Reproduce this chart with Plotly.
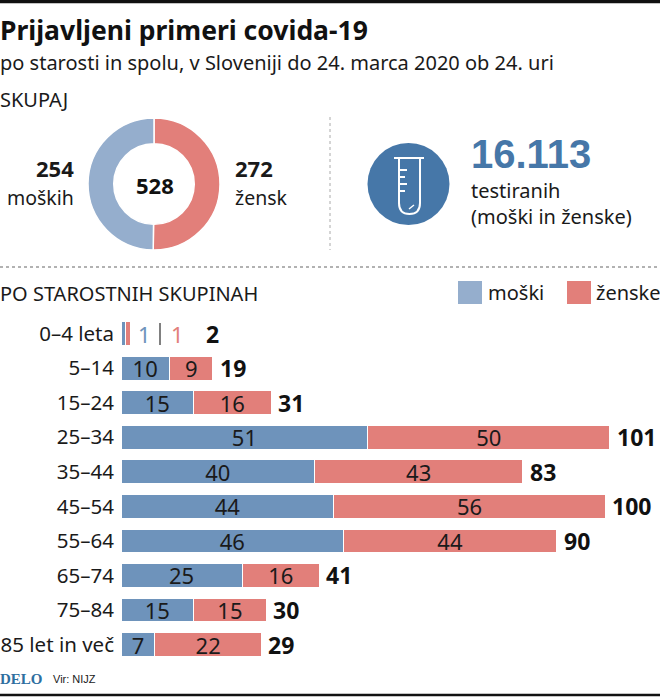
import plotly.graph_objects as go

W = 660
H = 697

# data
groups = ["0–4 leta", "5–14", "15–24", "25–34", "35–44", "45–54", "55–64", "65–74", "75–84", "85 let in več"]
men = [1, 10, 15, 51, 40, 44, 46, 25, 15, 7]
women = [1, 9, 16, 50, 43, 56, 44, 16, 15, 22]
totals = [2, 19, 31, 101, 83, 100, 90, 41, 30, 29]
total_men = 254
total_women = 272
total_all = 528
# the ring in the picture is drawn almost half and half, not 254:272
ring_women = 265
ring_men = 263
tested = "16.113"

BLUE = "#6e93bb"
LIGHT_BLUE = "#95aecd"
RED = "#e27f7a"
DARK_BLUE = "#4677a8"
FONT = "Noto Sans"


def px(x):
    return x / W


def py(y):
    return 1 - y / H


def text(x, y, s, size=20, color="#1a1a1a", anchor="left", bold=False, family=FONT):
    if bold:
        s = "<b>" + s + "</b>"
    return dict(
        x=px(x), y=py(y), xref="paper", yref="paper", text=s, showarrow=False,
        xanchor=anchor, yanchor="middle", font=dict(size=size, color=color, family=family),
        borderpad=0, borderwidth=0,
    )


def line(x0, y0, x1, y1, color="white", width=2, dash=None):
    return dict(
        type="line", xref="paper", yref="paper", x0=px(x0), y0=py(y0), x1=px(x1), y1=py(y1),
        line=dict(color=color, width=width, dash=dash),
    )


fig = go.Figure()

fig.add_trace(go.Pie(
    values=[ring_women, ring_men],
    labels=["ženske", "moški"],
    marker=dict(colors=[RED, LIGHT_BLUE], line=dict(color="white", width=1.5)),
    hole=0.61, sort=False, direction="clockwise", rotation=0,
    textinfo="none", showlegend=False,
    domain=dict(x=[px(88), px(220)], y=[py(250), py(118)]),
))

fig.add_trace(go.Bar(
    name="moški", y=groups, x=men, orientation="h",
    marker=dict(color=BLUE, line=dict(color="white", width=1)),
    text=[""] + [str(v) for v in men[1:]],
    textposition="inside", insidetextanchor="middle", textangle=0,
    constraintext="none", textfont=dict(size=22, color="#1a1a1a", family=FONT),
    showlegend=False,
))
fig.add_trace(go.Bar(
    name="ženske", y=groups, x=women, orientation="h",
    marker=dict(color=RED, line=dict(color="white", width=1)),
    text=[""] + [str(v) for v in women[1:]],
    textposition="inside", insidetextanchor="middle", textangle=0,
    constraintext="none", textfont=dict(size=22, color="#1a1a1a", family=FONT),
    showlegend=False,
))

annotations = [
    text(0, 30, "Prijavljeni primeri covida-19", size=26.5, color="#111111", bold=True),
    text(0, 62, "po starosti in spolu, v Sloveniji do 24. marca 2020 ob 24. uri", size=20),
    text(0, 100, "SKUPAJ", size=20),
    text(74, 168, str(total_men), size=22, anchor="right", bold=True),
    text(74, 197, "moških", size=19.5, anchor="right"),
    text(235, 168, str(total_women), size=22, bold=True),
    text(235, 197, "žensk", size=19.5),
    text(155, 185, str(total_all), size=22, anchor="center", bold=True, color="#111111"),
    text(471, 154, tested, size=40, color=DARK_BLUE, bold=True, family="Liberation Sans"),
    text(471, 190, "testiranih", size=20),
    text(471, 217, "(moški in ženske)", size=20),
    text(0, 293, "PO STAROSTNIH SKUPINAH", size=20),
    text(488, 292, "moški", size=20),
    text(596, 292, "ženske", size=20),
    text(0, 679, "<b>DELO</b>", size=15, color="#2f6f9f", family="Liberation Serif"),
    text(53, 679, "Vir: NIJZ", size=11, family="Liberation Sans"),
]

# row totals sit just after the bar, the first row is spaced out by hand
for g, t in zip(groups[1:], totals[1:]):
    annotations.append(dict(
        x=t, y=g, xref="x", yref="y", text="<b>%d</b>" % t, showarrow=False,
        xanchor="left", xshift=5, font=dict(size=23, color="#111111", family=FONT),
    ))
annotations += [
    dict(x=2, y=groups[0], xref="x", yref="y", text="<b>%d</b>" % totals[0], showarrow=False,
         xanchor="left", xshift=73, font=dict(size=23, color="#111111", family=FONT)),
    dict(x=2, y=groups[0], xref="x", yref="y", text=str(men[0]), showarrow=False,
         xanchor="center", xshift=14, font=dict(size=22, color=BLUE, family=FONT)),
    dict(x=2, y=groups[0], xref="x", yref="y", text=str(women[0]), showarrow=False,
         xanchor="center", xshift=47, font=dict(size=22, color=RED, family=FONT)),
]

shapes = [
    line(0, 1.5, W, 1.5, color="#111111", width=3.5),
    line(0, 695, W, 695, color="#111111", width=2.5),
    line(0, 267, W, 267, color="#666666", width=1.2, dash="dot"),
    line(330, 117, 330, 250, color="#aaaaaa", width=1, dash="dot"),
    # row-one separator
    line(160, 323, 160, 345, color="#808080", width=2),
    # legend swatches
    dict(type="rect", xref="paper", yref="paper", x0=px(458), x1=px(482), y0=py(304), y1=py(281),
         fillcolor=LIGHT_BLUE, line=dict(width=0)),
    dict(type="rect", xref="paper", yref="paper", x0=px(567), x1=px(591), y0=py(304), y1=py(281),
         fillcolor=RED, line=dict(width=0)),
    # test tube icon
    dict(type="circle", xref="paper", yref="paper", x0=px(367.5), x1=px(449.5), y0=py(225), y1=py(143),
         fillcolor=DARK_BLUE, line=dict(width=0)),
    line(394, 158, 424, 158),
    dict(type="path", xref="paper", yref="paper", line=dict(color="white", width=2),
         path="M %f,%f L %f,%f Q %f,%f %f,%f Q %f,%f %f,%f L %f,%f" % (
             px(399), py(158), px(399), py(203), px(399), py(214), px(409.5), py(214),
             px(420), py(214), px(420), py(203), px(420), py(158))),
    line(399, 170, 407, 170),
    line(399, 177, 405, 177),
    line(399, 184, 407, 184),
    line(399, 191, 405, 191),
    line(409, 209, 414, 205, width=1.5),
]

fig.update_layout(
    barmode="stack",
    bargap=0.31,
    width=W,
    height=H,
    margin=dict(l=0, r=0, t=0, b=0),
    paper_bgcolor="white",
    plot_bgcolor="white",
    font=dict(family=FONT, size=20, color="#1a1a1a"),
    showlegend=False,
    annotations=annotations,
    shapes=shapes,
)
fig.update_xaxes(domain=[px(121), 1], range=[0, 539 / 4.84], visible=False, automargin=False)
fig.update_yaxes(
    domain=[py(662.6), py(315.6)], autorange="reversed", showgrid=False, showline=False,
    zeroline=False, ticks="", tickfont=dict(size=20.5, color="#1a1a1a", family=FONT),
    ticklabelstandoff=6, automargin=False,
)

fig.write_html("out.html", config={"displayModeBar": False}, post_script="document.body.style.margin = '0';")
